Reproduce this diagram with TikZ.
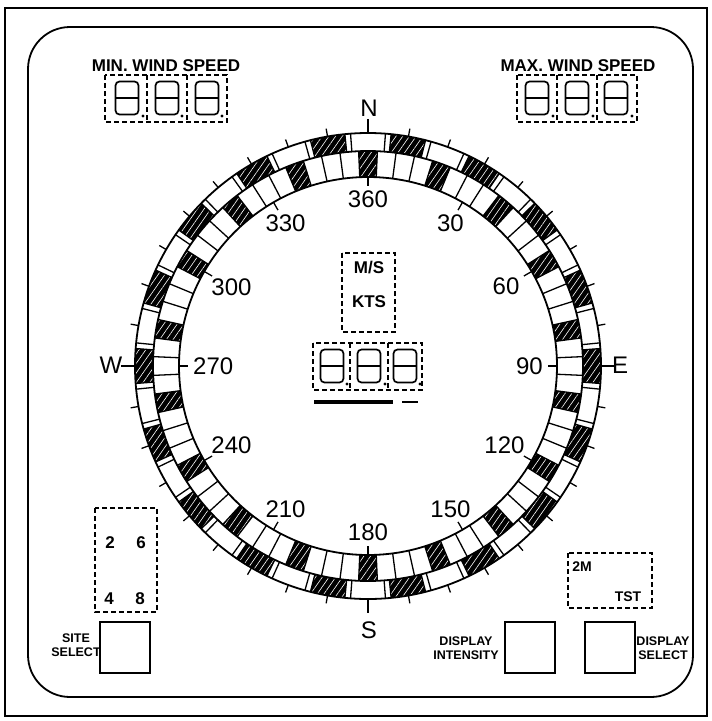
\documentclass[tikz,border=0pt]{standalone}
\usepackage{fontspec}
\setmainfont{Liberation Sans}
\usetikzlibrary{patterns.meta}
\newcommand\sevseg[3]{% name, x, y(down)
  \begin{scope}[shift={(#2,-#3)}]
    \draw[segline, rounded corners=4pt] (-11.5,16.5) rectangle (11.5,-16.5);
    \draw[segline] (-11.5,0) -- (11.5,0);
    \coordinate (#1) at (0,0);
  \end{scope}}
\begin{document}
\begin{tikzpicture}[x=1pt,y=1pt,
  frame/.style={line width=2.5pt},
  panel/.style={line width=1.8pt, rounded corners=42pt},
  dbox/.style={line width=1.4pt, dash pattern=on 5pt off 3pt},
  button/.style={line width=1.8pt},
  segline/.style={line width=1.7pt},
  lbl/.style={font=\fontsize{12.5}{13}\selectfont\bfseries, inner sep=0pt, align=center},
  biglbl/.style={font=\fontsize{17}{18}\selectfont\bfseries, inner sep=0pt},
  midlbl/.style={font=\fontsize{17}{18}\selectfont\bfseries, inner sep=0pt},
  smlbl/.style={font=\fontsize{14}{15}\selectfont\bfseries, inner sep=0pt},
  dial/.style={font=\fontsize{24}{26}\selectfont, inner sep=0pt},
  hatchseg/.style={fill=black, postaction={pattern={Lines[angle=55,distance=5.5pt,line width=0.6pt]}, pattern color=white}},
  ringline/.style={line width=1.8pt},
  tickline/.style={line width=1.3pt},
]
\useasboundingbox (0,0) rectangle (712,-721);
% frames
\draw[frame] (5,-8) rectangle (707,-716);
\draw[panel] (28,-27) rectangle (693,-697);

% ---- MIN wind speed
\node[biglbl] (minlbl) at (166,-66) {MIN. WIND SPEED};
\draw[dbox] (105,-75) rectangle (227,-122);
\draw[dbox] (147,-75) -- (147,-122) (187,-75) -- (187,-122);
\sevseg{mina}{127}{98}\sevseg{minb}{167}{98}\sevseg{minc}{207}{98}
\fill (143,-116) circle (1.7) (182,-116) circle (1.7) (222,-116) circle (1.7);

% ---- MAX wind speed
\node[biglbl] (maxlbl) at (578,-66) {MAX. WIND SPEED};
\draw[dbox] (517,-75) rectangle (637,-122);
\draw[dbox] (557,-75) -- (557,-122) (597,-75) -- (597,-122);
\sevseg{maxa}{537}{98}\sevseg{maxb}{577}{98}\sevseg{maxc}{616}{98}
\fill (553,-116) circle (1.7) (593,-116) circle (1.7) (632,-116) circle (1.7);

% ---- centre units and readout
\draw[dbox] (342,-253) rectangle (395,-332);
\node[midlbl] (ms) at (369,-268) {M/S};
\node[midlbl] (kts) at (369,-302) {KTS};
\draw[dbox] (313,-343) rectangle (422,-390);
\draw[dbox] (350,-343) -- (350,-390) (388,-343) -- (388,-390);
\sevseg{ca}{332}{366}\sevseg{cb}{369}{366}\sevseg{cc}{405}{366}
\fill (347,-384) circle (1.7) (385,-384) circle (1.7) (420,-384) circle (1.7);
\draw[line width=3.5pt] (314,-402) -- (393,-402);
\draw[line width=2pt] (402,-402) -- (418,-402);

% ---- dial
\begin{scope}[shift={(368,-366)}]
  \foreach \k in {1,3,...,35}{
    \pgfmathsetmacro\aa{90-10*\k-4.3}
    \pgfmathsetmacro\ab{90-10*\k+4.3}
    \path[hatchseg] (\aa:215) arc[start angle=\aa, end angle=\ab, radius=215]
      -- (\ab:233) arc[start angle=\ab, end angle=\aa, radius=233] -- cycle;
  }
  \foreach \k in {0,20,...,340}{
    \pgfmathsetmacro\aa{90-\k-2.5}
    \pgfmathsetmacro\ab{90-\k+2.5}
    \path[hatchseg] (\aa:189) arc[start angle=\aa, end angle=\ab, radius=189]
      -- (\ab:215) arc[start angle=\ab, end angle=\aa, radius=215] -- cycle;
  }
  \draw[ringline] (0,0) circle (233) (0,0) circle (215) (0,0) circle (189);
  \foreach \k in {0,...,35}{
    \pgfmathsetmacro\ga{90-10*\k-5-0.7}
    \pgfmathsetmacro\gb{90-10*\k-5+0.7}
    \draw[tickline] (\ga:215) -- (\ga:233) (\gb:215) -- (\gb:233);
  }
  \foreach \k in {0,...,71}{
    \pgfmathsetmacro\da{90-5*\k-2.5}
    \draw[tickline] (\da:189) -- (\da:215);
  }
  \foreach \k in {0,...,35}{
    \pgfmathsetmacro\ta{90-10*\k}
    \draw[tickline] (\ta:233) -- (\ta:241);
  }
  \foreach \ta in {0,90,180,270}{
    \draw[tickline] (\ta:233) -- (\ta:247);
  }
  \foreach \t/\s in {0/360,30/30,60/60,90/90,120/120,150/150,180/180,210/210,240/240,270/270,300/300,330/330}{
    \pgfmathtruncatemacro\an{mod(450-\t,360)}
    \draw[tickline] (\an:189) -- (\an:180);
    \node[dial, anchor=\an] (d\s) at (\an:175) {\s};
  }
\end{scope}
\node[dial] (north) at (369,-108) {N};
\node[dial] (south) at (369,-630) {S};
\node[dial] (west) at (111,-365) {W};
\node[dial] (east) at (620,-365) {E};

% ---- site select
\draw[dbox] (95,-508) rectangle (157,-612);
\node[biglbl] (s2) at (110,-543) {2};
\node[biglbl] (s6) at (141,-543) {6};
\node[biglbl] (s4) at (109,-599) {4};
\node[biglbl] (s8) at (140,-599) {8};
\draw[button] (100,-622) rectangle (150,-673);
\node[lbl] (sitelbl) at (76,-645) {SITE\\[1pt]SELECT};

% ---- 2M / TST
\draw[dbox] (568,-553) rectangle (652,-608);
\node[smlbl] (twom) at (582,-567) {2M};
\node[smlbl] (tst) at (628,-597) {TST};

% ---- display buttons
\draw[button] (505,-622) rectangle (555,-673);
\node[lbl] (intlbl) at (466,-648) {DISPLAY\\[1pt]INTENSITY};
\draw[button] (585,-622) rectangle (635,-673);
\node[lbl] (sellbl) at (663,-648) {DISPLAY\\[1pt]SELECT};
\end{tikzpicture}
\end{document}
